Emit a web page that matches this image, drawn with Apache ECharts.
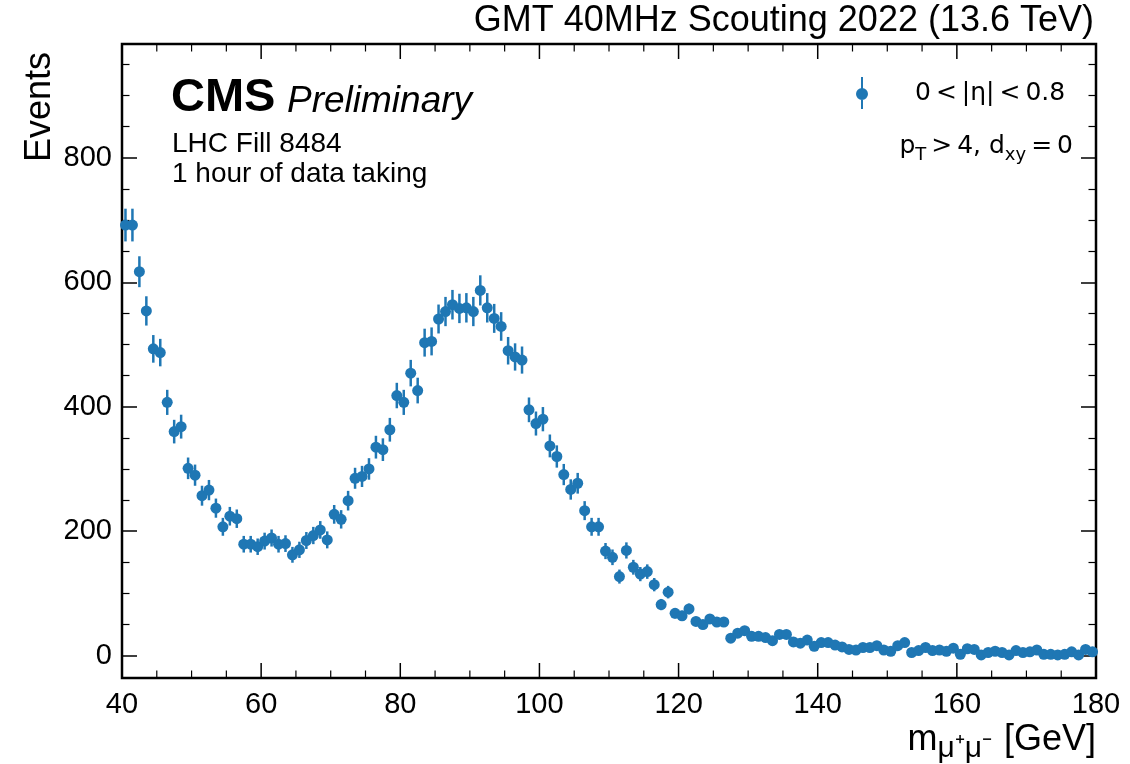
<!DOCTYPE html>
<html>
<head>
<meta charset="utf-8">
<script src="https://cdn.jsdelivr.net/npm/echarts@6/dist/echarts.min.js"></script>
<style>html,body{margin:0;padding:0;background:#fff}#c{width:1130px;height:764px}</style>
</head>
<body>
<div id="c"></div>
<script>
// Histogram: 1 GeV bins from 40 to 180 GeV
const binStart = 40;
const binWidth = 1;
const counts = [
  692, 692, 617, 554, 493, 487, 407, 360, 368, 301,
  290, 257, 266, 237, 207, 224, 220, 179, 179, 175,
  184, 189, 179, 180, 162, 170, 185, 193, 202, 186,
  227, 219, 249, 285, 288, 300, 335, 331, 363, 418,
  407, 454, 426, 503, 505, 541, 553, 564, 558, 559,
  553, 587, 559, 542, 529, 490, 480, 475, 395, 373,
  380, 337, 320, 291, 267, 277, 233, 207, 207, 168,
  158, 127, 169, 142, 131, 135, 114, 82, 102, 68,
  64, 75, 55, 50, 59, 54, 54, 28, 36, 40,
  31, 31, 29, 24, 34, 34, 22, 20, 25, 15,
  21, 21, 17, 14, 10, 9, 13, 13, 16, 9,
  7, 16, 21, 5, 8, 13, 8, 9, 7, 12,
  2, 11, 10, 1, 5, 7, 5, 1, 8, 5,
  6, 9, 2, 2, 1, 2, 6, 1, 10, 6
];
const xTicks = [40, 60, 80, 100, 120, 140, 160, 180];
const xMinorTicks = [45, 50, 55, 65, 70, 75, 85, 90, 95, 105, 110, 115, 125, 130, 135, 145, 150, 155, 165, 170, 175];
const yTicks = [0, 200, 400, 600, 800];
const yMinorTicks = [50, 100, 150, 250, 300, 350, 450, 500, 550, 650, 700, 750, 850, 900, 950];
const seriesName = '0\u2009<\u2009|η|\u2009<\u20090.8';

const X_MIN = 40, X_MAX = 180, Y_MIN = -36, Y_MAX = 983;
const centers = counts.map((c, i) => binStart + binWidth * (i + 0.5));
const points = counts.map((c, i) => [centers[i], c]);
const errBars = counts.map((c, i) => [centers[i], c - Math.sqrt(c), c + Math.sqrt(c)]);

const blue = '#1f77b4';
const sans = 'Liberation Sans';
const MAJOR_LEN = 15, MINOR_LEN = 7.5;
const chart = echarts.init(document.getElementById('c'), null, {renderer: 'canvas'});

const tickMajor = {show: true, inside: true, length: MAJOR_LEN, lineStyle: {color: '#000', width: 1.5}};
const tickMinor = {show: true, inside: true, length: MINOR_LEN, lineStyle: {color: '#000', width: 1.2}};

function xAx(pos, labels) {
  return {
    type: 'value', position: pos, min: X_MIN, max: X_MAX, interval: 20,
    axisLine: {show: false, onZero: false},
    axisTick: {show: false},
    splitLine: {show: false},
    axisLabel: {show: labels, margin: 12, fontFamily: sans, fontSize: 29, color: '#000'}
  };
}
function yAx(pos, labels, minor) {
  const vals = minor ? yMinorTicks : yTicks;
  return {
    type: 'value', position: pos, min: Y_MIN, max: Y_MAX,
    axisLine: {show: false, onZero: false},
    axisTick: Object.assign({}, minor ? tickMinor : tickMajor, {customValues: vals}),
    splitLine: {show: false},
    axisLabel: {show: labels, customValues: vals, margin: 10, fontFamily: sans, fontSize: 29, color: '#000'}
  };
}
// x-axis tick marks on the bottom/top edges, as thin rect symbols placed by the axis scales
function tickSeries(vals, atTop, len, w) {
  return {
    type: 'scatter', name: 'tick', xAxisIndex: 0, yAxisIndex: 0, silent: true, clip: false,
    symbol: 'rect', symbolSize: [w, len], symbolOffset: [0, atTop ? len / 2 : -len / 2],
    itemStyle: {color: '#000', opacity: 1}, z: 10,
    data: vals.map(v => [v, atTop ? Y_MAX : Y_MIN])
  };
}

chart.setOption({
  animation: false,
  backgroundColor: '#fff',
  grid: {left: 122, right: 34, top: 44, bottom: 86, show: true, borderColor: '#000', borderWidth: 2.5, backgroundColor: 'transparent'},
  xAxis: [xAx('bottom', true), xAx('top', false)],
  yAxis: [yAx('left', true, false), yAx('left', false, true), yAx('right', false, false), yAx('right', false, true)],
  legend: {
    data: [seriesName],
    left: 851, top: 72,
    itemWidth: 12, itemHeight: 32,
    icon: 'path://M5,0L7,0L7,32L5,32Z M12,17A6,6,0,1,1,0,17A6,6,0,1,1,12,17Z',
    textStyle: {fontFamily: 'DejaVu Sans', fontSize: 25, color: '#000', padding: [0, 0, 0, 42]},
    selectedMode: false
  },
  graphic: [
    {type: 'text', right: 36, top: 3, style: {text: 'GMT 40MHz Scouting 2022 (13.6 TeV)', fontFamily: sans, fontSize: 36, fill: '#000'}},
    {type: 'text', x: 40, y: 52, rotation: Math.PI / 2, style: {text: 'Events', fontFamily: sans, fontSize: 36, fill: '#000', align: 'right', verticalAlign: 'middle'}},
    {type: 'text', x: 171, y: 98, style: {text: 'CMS', fontFamily: sans, fontWeight: 'bold', fontSize: 47, fill: '#000', verticalAlign: 'middle'}},
    {type: 'text', x: 287, y: 102, style: {text: 'Preliminary', fontFamily: sans, fontStyle: 'italic', fontSize: 37, fill: '#000', verticalAlign: 'middle'}},
    {type: 'text', x: 172, y: 144, style: {text: 'LHC Fill 8484', fontFamily: sans, fontSize: 28, fill: '#000', verticalAlign: 'middle'}},
    {type: 'text', x: 172, y: 174, style: {text: '1 hour of data taking', fontFamily: sans, fontSize: 28, fill: '#000', verticalAlign: 'middle'}},
    {type: 'text', x: 1073, y: 146, style: {
      text: '{n|p}{s|T}{n|\u2009>\u20094, d}{s|xy}{n|\u2009=\u20090}', align: 'right', verticalAlign: 'middle',
      rich: {
        n: {fontFamily: 'DejaVu Sans', fontSize: 25, fill: '#000', lineHeight: 36, verticalAlign: 'middle'},
        s: {fontFamily: 'DejaVu Sans', fontSize: 18, fill: '#000', lineHeight: 36, verticalAlign: 'bottom'}
      }
    }},
    {type: 'text', x: 1096, y: 740, style: {
      text: '{n|m}{s|μ⁺μ⁻\u2009\u2009}{n|[GeV]}', align: 'right', verticalAlign: 'middle',
      rich: {
        n: {fontFamily: sans, fontSize: 36, fill: '#000', lineHeight: 48, verticalAlign: 'middle'},
        s: {fontFamily: sans, fontSize: 30, fill: '#000', lineHeight: 48, verticalAlign: 'bottom'}
      }
    }}
  ],
  series: [
    tickSeries(xTicks, false, MAJOR_LEN, 1.5),
    tickSeries(xMinorTicks, false, MINOR_LEN, 1.2),
    tickSeries(xTicks, true, MAJOR_LEN, 1.5),
    tickSeries(xMinorTicks, true, MINOR_LEN, 1.2),
    {
      type: 'custom', name: 'err', xAxisIndex: 0, yAxisIndex: 0, silent: true,
      renderItem: function (params, api) {
        const a = api.coord([api.value(0), api.value(1)]);
        const b = api.coord([api.value(0), api.value(2)]);
        return {type: 'line', shape: {x1: a[0], y1: a[1], x2: b[0], y2: b[1]}, style: {stroke: blue, lineWidth: 2.5}};
      },
      encode: {x: 0, y: [1, 2]},
      data: errBars, z: 2
    },
    {
      type: 'scatter', name: seriesName, xAxisIndex: 0, yAxisIndex: 0,
      symbol: 'circle', symbolSize: 11,
      itemStyle: {color: blue, opacity: 1},
      data: points, z: 3
    }
  ]
});
</script>
</body>
</html>
